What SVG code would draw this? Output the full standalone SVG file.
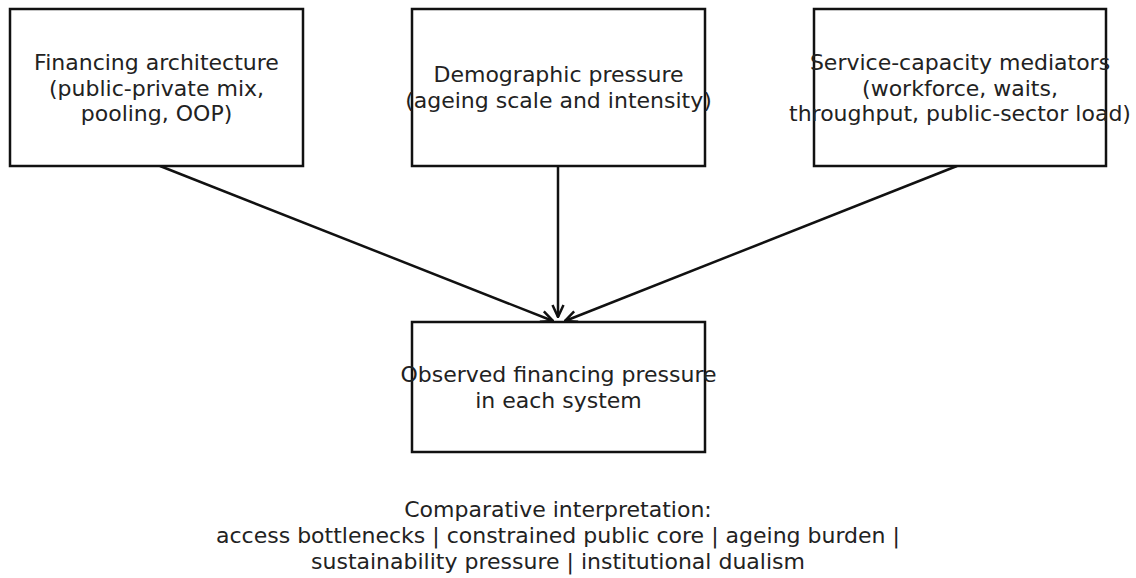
<svg xmlns="http://www.w3.org/2000/svg" width="1136" height="578" viewBox="0 0 1136 578">
<style>
.box{fill:#fff;stroke:#111;stroke-width:2.5}
.t{font-family:"DejaVu Sans",sans-serif;font-size:22px;fill:#222;text-anchor:middle}
.c{stroke:#111;stroke-width:2.5;fill:none}
</style>
<defs>
<marker id="ah" viewBox="0 0 14 14" refX="13" refY="7" markerWidth="14" markerHeight="14" markerUnits="userSpaceOnUse" orient="auto">
<path d="M1,1.5 L13,7 L1,12.5" fill="none" stroke="#111" stroke-width="2.5"/>
</marker>
</defs>
<rect width="1136" height="578" fill="#fff"/>
<g id="connectors">
<line class="c" x1="160" y1="166" x2="553" y2="321" marker-end="url(#ah)"/>
<line class="c" x1="558" y1="166" x2="558" y2="317" marker-end="url(#ah)"/>
<line class="c" x1="957" y1="166" x2="565" y2="321" marker-end="url(#ah)"/>
</g>
<g id="financing">
<rect class="box" x="10" y="9" width="293" height="157"/>
<text class="t" x="156.5" y="70">Financing architecture</text>
<text class="t" x="156.5" y="95.5">(public-private mix,</text>
<text class="t" x="156.5" y="121">pooling, OOP)</text>
</g>
<g id="demographic">
<rect class="box" x="412" y="9" width="293" height="157"/>
<text class="t" x="558.5" y="82">Demographic pressure</text>
<text class="t" x="558.5" y="107.5">(ageing scale and intensity)</text>
</g>
<g id="service">
<rect class="box" x="814" y="9" width="292" height="157"/>
<text class="t" x="960" y="70">Service-capacity mediators</text>
<text class="t" x="960" y="95.5">(workforce, waits,</text>
<text class="t" x="960" y="121">throughput, public-sector load)</text>
</g>
<g id="observed">
<rect class="box" x="412" y="322" width="293" height="130"/>
<text class="t" x="558.5" y="382">Observed financing pressure</text>
<text class="t" x="558.5" y="407.5">in each system</text>
</g>
<g id="interpretation">
<text class="t" x="558" y="517">Comparative interpretation:</text>
<text class="t" x="558" y="543">access bottlenecks | constrained public core | ageing burden |</text>
<text class="t" x="558" y="569">sustainability pressure | institutional dualism</text>
</g>
</svg>
